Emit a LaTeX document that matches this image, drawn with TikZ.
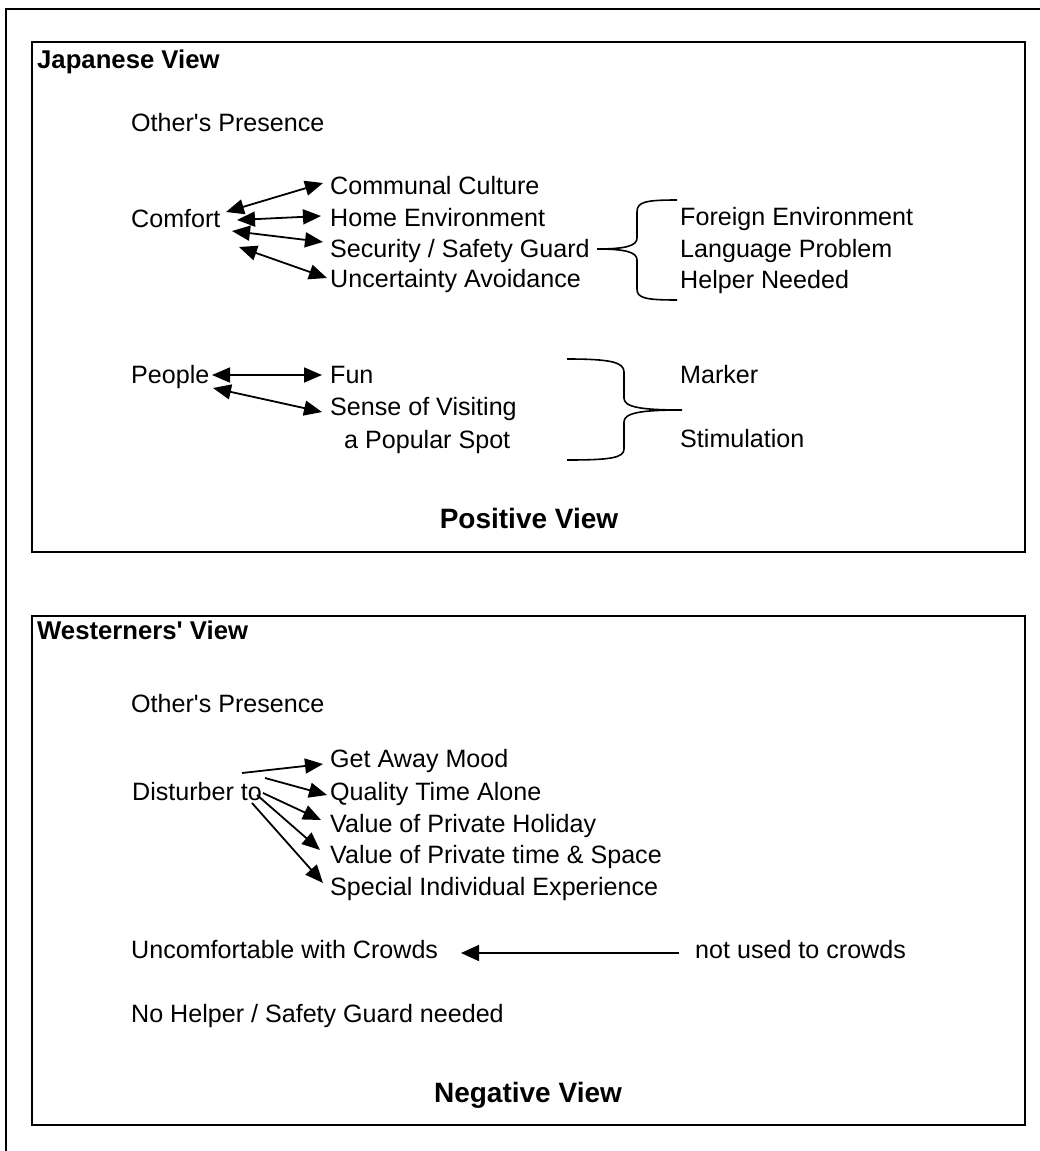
\documentclass[tikz,border=0pt]{standalone}
\usepackage{fontspec}
\newfontfamily\arialf{Liberation Sans}
\usetikzlibrary{arrows.meta}
\begin{document}
\begin{tikzpicture}[x=1pt,y=-1pt,
  txt/.style={anchor=base west,inner sep=0pt,font=\arialf\fontsize{25.1}{30}\selectfont},
  ttl/.style={anchor=base west,inner sep=0pt,font=\arialf\fontsize{25.7}{30}\selectfont\bfseries},
  foot/.style={anchor=base,inner sep=0pt,font=\arialf\fontsize{28}{32}\selectfont\bfseries},
  frame/.style={draw=black,line width=2pt},
  viewbox/.style={frame,anchor=north west,inner sep=0pt,minimum width=993pt},
  dbl/.style={{Triangle[length=18pt,width=15pt]}-{Triangle[length=18pt,width=15pt]},line width=1.8pt},
  sgl/.style={-{Triangle[length=18pt,width=15pt]},line width=1.8pt},
  brc/.style={line width=1.6pt}
]
\useasboundingbox (0,0) rectangle (1040,1151);
\fill[white] (0,0) rectangle (1040,1151);
% outer frame
\coordinate (oa) at (6,1151);
\coordinate (ob) at (6,9);
\coordinate (oc) at (1040,9);
\draw[frame] (oa) -- (ob) -- (oc);

% ===== Japanese box =====
\node[viewbox,minimum height=510pt] (box1) at (31,41) {};
\node[ttl] (jv) at (37,68) {Japanese View};
\node[txt] (op1) at (131,131) {Other's Presence};
\node[txt] (comfort) at (131,227) {Comfort};
\node[txt] (cc) at (330,194) {Communal Culture};
\node[txt] (he) at (330,226) {Home Environment};
\node[txt] (ss) at (330,257) {Security / Safety Guard};
\node[txt] (ua) at (330,287) {Uncertainty Avoidance};

\coordinate (c1a) at (226,212); \coordinate (c1b) at (323,183);
\coordinate (c2a) at (237,220); \coordinate (c2b) at (321,216);
\coordinate (c3a) at (232,231); \coordinate (c3b) at (323,242);
\coordinate (c4a) at (239,247); \coordinate (c4b) at (327,278);
\draw[dbl] (c1a) -- (c1b);
\draw[dbl] (c2a) -- (c2b);
\draw[dbl] (c3a) -- (c3b);
\draw[dbl] (c4a) -- (c4b);

% brace 1
\coordinate (b1tip) at (597,249);
\coordinate (b1top) at (677,200);
\coordinate (b1bot) at (677,300);
\draw[brc] (b1top) .. controls (645,200) and (637,202) .. (637,212) -- (637,238)
  .. controls (637,246) and (625,249) .. (b1tip)
  .. controls (625,249) and (637,252) .. (637,260) -- (637,289)
  .. controls (637,298) and (645,300) .. (b1bot);
\node[txt] (fe) at (680,225) {Foreign Environment};
\node[txt] (lp) at (680,257) {Language Problem};
\node[txt] (hn) at (680,288) {Helper Needed};

% People row
\node[txt] (people) at (131,383) {People};
\node[txt] (fun) at (330,383) {Fun};
\node[txt] (sv) at (330,415) {Sense of Visiting};
\node[txt] (ps) at (344,448) {a Popular Spot};
\coordinate (p1a) at (212,375); \coordinate (p1b) at (322,375);
\coordinate (p2a) at (213,388); \coordinate (p2b) at (322,412);
\draw[dbl] (p1a) -- (p1b);
\draw[dbl] (p2a) -- (p2b);

% brace 2
\coordinate (b2top) at (567,359);
\coordinate (b2tip) at (682,410);
\coordinate (b2bot) at (567,460);
\draw[brc] (b2top) .. controls (610,359) and (624,362) .. (624,372) -- (624,398)
  .. controls (624,407) and (640,410) .. (b2tip)
  .. controls (640,410) and (624,413) .. (624,422) -- (624,449)
  .. controls (624,458) and (610,460) .. (b2bot);
\node[txt] (mk) at (680,383) {Marker};
\node[txt] (st) at (680,447) {Stimulation};

\node[foot] (pv) at (529,528) {Positive View};

% ===== Westerners box =====
\node[viewbox,minimum height=509pt] (box2) at (31,615) {};
\node[ttl] (wv) at (37,639) {Westerners' View};
\node[txt] (op2) at (131,712) {Other's Presence};
\node[txt] (dist) at (132,800) {Disturber to};
\node[txt] (gam) at (330,767) {Get Away Mood};
\node[txt] (qta) at (330,800) {Quality Time Alone};
\node[txt] (vph) at (330,832) {Value of Private Holiday};
\node[txt] (vpt) at (330,863) {Value of Private time \& Space};
\node[txt] (sie) at (330,895) {Special Individual Experience};

\coordinate (d1a) at (242,773); \coordinate (d1b) at (323,764);
\coordinate (d2a) at (265,778); \coordinate (d2b) at (327,795);
\coordinate (d3a) at (263,793); \coordinate (d3b) at (321,820);
\coordinate (d4a) at (257,795); \coordinate (d4b) at (320,850);
\coordinate (d5a) at (252,803); \coordinate (d5b) at (323,883);
\draw[sgl] (d1a) -- (d1b);
\draw[sgl] (d2a) -- (d2b);
\draw[sgl] (d3a) -- (d3b);
\draw[sgl] (d4a) -- (d4b);
\draw[sgl] (d5a) -- (d5b);

\node[txt] (ucw) at (131,958) {Uncomfortable with Crowds};
\node[txt] (nuc) at (695,958) {not used to crowds};
\coordinate (u1) at (679,953); \coordinate (u2) at (461,953);
\draw[-{Triangle[length=18pt,width=16pt]},line width=1.6pt] (u1) -- (u2);

\node[txt] (nhs) at (131,1022) {No Helper / Safety Guard needed};

\node[foot] (nv) at (528,1102) {Negative View};
\end{tikzpicture}
\end{document}
